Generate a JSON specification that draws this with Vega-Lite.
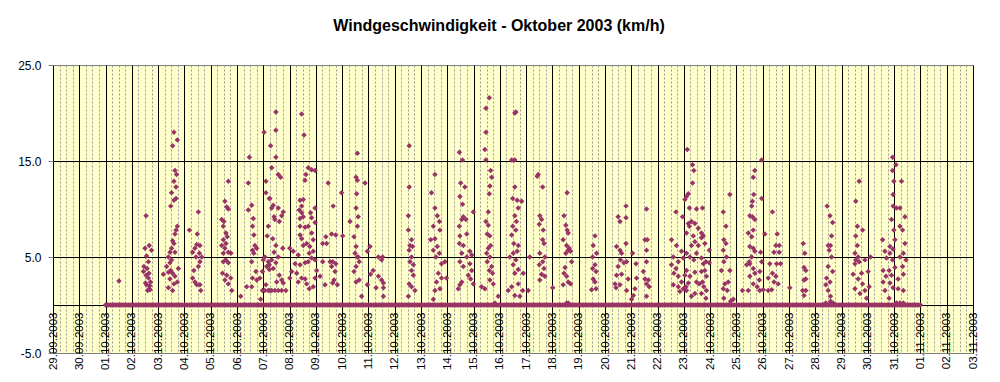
{
  "$schema": "https://vega.github.io/schema/vega-lite/v6.json",
  "width": 920,
  "height": 288,
  "autosize": {"type": "none"},
  "padding": {"left": 53, "top": 65, "right": 27, "bottom": 29},
  "background": "#ffffff",
  "config": {"view": {"fill": "#FFFFCC", "stroke": "#808080", "strokeWidth": 1}, "font": "Liberation Sans"},
  "title": {"text": "Windgeschwindigkeit - Oktober 2003 (km/h)", "font": "Liberation Sans", "fontSize": 16, "fontWeight": "bold", "color": "#000000", "anchor": "middle", "offset": 25, "dx": -14},
  "datasets": {
    "wind": [
      {"d":2.51,"v":2.5},
      {"d":3.54,"v":9.3},{"d":3.66,"v":6.2},{"d":3.75,"v":5.7},{"d":3.56,"v":5.1},{"d":3.63,"v":4.5},{"d":3.46,"v":4.0},{"d":3.44,"v":3.5},{"d":3.54,"v":3.1},{"d":3.63,"v":2.8},{"d":3.71,"v":2.4},{"d":3.56,"v":2.1},{"d":3.66,"v":1.7},{"d":3.60,"v":1.5},{"d":3.69,"v":1.6},{"d":3.50,"v":5.9},{"d":3.58,"v":3.8},{"d":3.65,"v":3.3},{"d":3.52,"v":2.3},{"d":3.68,"v":2.0},
      {"d":4.60,"v":18.0},{"d":4.73,"v":17.2},{"d":4.55,"v":16.6},{"d":4.64,"v":14.0},{"d":4.70,"v":13.6},{"d":4.60,"v":12.9},{"d":4.68,"v":12.3},{"d":4.51,"v":11.7},{"d":4.68,"v":11.1},{"d":4.60,"v":10.9},{"d":4.48,"v":10.3},{"d":4.73,"v":8.2},{"d":4.68,"v":7.8},{"d":4.64,"v":7.4},{"d":4.55,"v":6.7},{"d":4.60,"v":6.4},{"d":4.51,"v":5.9},{"d":4.45,"v":5.5},{"d":4.64,"v":5.5},{"d":4.39,"v":5.0},{"d":4.51,"v":4.7},{"d":4.45,"v":4.4},{"d":4.32,"v":4.0},{"d":4.77,"v":3.8},{"d":4.48,"v":3.6},{"d":4.39,"v":3.4},{"d":4.55,"v":3.3},{"d":4.20,"v":3.2},{"d":4.64,"v":3.0},{"d":4.45,"v":2.7},{"d":4.73,"v":2.4},{"d":4.60,"v":2.2},{"d":4.39,"v":1.8},{"d":4.55,"v":1.5},
      {"d":5.53,"v":9.7},{"d":5.19,"v":7.8},{"d":5.49,"v":7.4},{"d":5.47,"v":6.3},{"d":5.59,"v":6.2},{"d":5.40,"v":5.9},{"d":5.31,"v":5.5},{"d":5.57,"v":5.4},{"d":5.44,"v":5.0},{"d":5.66,"v":5.0},{"d":5.59,"v":4.5},{"d":5.53,"v":4.0},{"d":5.36,"v":3.6},{"d":5.31,"v":2.8},{"d":5.40,"v":2.4},{"d":5.59,"v":2.1},{"d":5.47,"v":2.1},{"d":5.62,"v":1.5},
      {"d":6.67,"v":12.9},{"d":6.54,"v":10.8},{"d":6.61,"v":10.2},{"d":6.67,"v":10.0},{"d":6.42,"v":8.9},{"d":6.50,"v":8.7},{"d":6.48,"v":8.2},{"d":6.58,"v":7.5},{"d":6.63,"v":7.1},{"d":6.48,"v":6.8},{"d":6.58,"v":6.4},{"d":6.42,"v":6.2},{"d":6.54,"v":5.9},{"d":6.67,"v":5.5},{"d":6.48,"v":5.4},{"d":6.77,"v":5.4},{"d":6.58,"v":4.7},{"d":6.48,"v":4.5},{"d":6.67,"v":4.4},{"d":6.45,"v":3.3},{"d":6.61,"v":3.1},{"d":6.54,"v":2.6},{"d":6.76,"v":2.8},{"d":6.67,"v":2.2},{"d":6.80,"v":1.5},
      {"d":7.14,"v":0.9},{"d":7.37,"v":1.9},{"d":7.43,"v":9.9},{"d":7.43,"v":12.7},{"d":7.47,"v":15.4},{"d":7.56,"v":10.4},{"d":7.62,"v":9.0},{"d":7.59,"v":8.2},{"d":7.64,"v":7.3},{"d":7.68,"v":6.2},{"d":7.75,"v":5.9},{"d":7.59,"v":5.7},{"d":7.64,"v":5.4},{"d":7.56,"v":4.5},{"d":7.72,"v":3.5},{"d":7.59,"v":2.8},{"d":7.75,"v":2.6},{"d":7.56,"v":1.9},{"d":8.03,"v":18.0},{"d":8.10,"v":12.9},{"d":8.10,"v":11.7},{"d":8.23,"v":11.1},{"d":8.06,"v":5.0},{"d":8.00,"v":4.7},{"d":8.19,"v":4.5},{"d":8.13,"v":4.0},{"d":8.23,"v":3.7},{"d":7.97,"v":3.5},{"d":8.10,"v":2.1},{"d":7.97,"v":1.5},{"d":8.25,"v":1.5},{"d":7.90,"v":0.6},
      {"d":8.48,"v":20.1},{"d":8.28,"v":16.6},{"d":8.48,"v":18.2},{"d":8.48,"v":15.4},{"d":8.32,"v":14.3},{"d":8.57,"v":13.6},{"d":8.66,"v":13.3},{"d":8.25,"v":11.1},{"d":8.38,"v":10.4},{"d":8.32,"v":10.1},{"d":8.57,"v":10.1},{"d":8.76,"v":9.7},{"d":8.41,"v":9.2},{"d":8.70,"v":9.3},{"d":8.44,"v":8.9},{"d":8.19,"v":8.2},{"d":8.61,"v":8.7},{"d":8.15,"v":7.2},{"d":8.36,"v":6.9},{"d":8.48,"v":6.2},{"d":8.74,"v":5.9},{"d":8.41,"v":5.5},{"d":8.57,"v":5.0},{"d":8.32,"v":4.7},{"d":8.48,"v":4.4},{"d":8.23,"v":4.2},{"d":8.38,"v":3.8},{"d":8.61,"v":3.1},{"d":8.70,"v":2.6},{"d":8.76,"v":2.3},{"d":8.51,"v":2.4},{"d":8.06,"v":1.5},{"d":8.19,"v":1.5},{"d":8.32,"v":1.5},{"d":8.44,"v":1.5},{"d":8.57,"v":1.5},{"d":8.70,"v":1.5},{"d":8.86,"v":1.5},{"d":7.87,"v":2.8},
      {"d":9.46,"v":19.9},{"d":9.55,"v":17.7},{"d":9.71,"v":14.3},{"d":9.84,"v":14.1},{"d":9.97,"v":14.0},{"d":9.62,"v":13.6},{"d":9.59,"v":13.0},{"d":9.40,"v":10.9},{"d":9.52,"v":11.0},{"d":9.46,"v":10.3},{"d":9.37,"v":9.9},{"d":9.46,"v":9.6},{"d":9.52,"v":9.2},{"d":9.40,"v":9.0},{"d":9.80,"v":9.6},{"d":9.84,"v":9.1},{"d":9.97,"v":10.1},{"d":9.71,"v":8.2},{"d":9.40,"v":8.2},{"d":9.59,"v":8.1},{"d":9.97,"v":8.6},{"d":9.84,"v":7.5},{"d":9.40,"v":7.3},{"d":9.46,"v":6.9},{"d":9.90,"v":6.8},{"d":9.52,"v":6.2},{"d":9.65,"v":6.4},{"d":9.77,"v":6.1},{"d":9.01,"v":5.9},{"d":9.14,"v":5.6},{"d":9.75,"v":5.4},{"d":9.90,"v":5.6},{"d":9.33,"v":5.2},{"d":9.84,"v":4.9},{"d":9.97,"v":4.7},{"d":9.71,"v":4.5},{"d":9.21,"v":4.3},{"d":9.40,"v":4.2},{"d":9.59,"v":4.4},{"d":9.08,"v":3.5},{"d":9.27,"v":3.3},{"d":9.46,"v":2.8},{"d":9.59,"v":2.7},{"d":9.33,"v":2.4},{"d":9.65,"v":2.2},{"d":9.01,"v":2.8},{"d":9.97,"v":2.8},{"d":9.75,"v":1.7},{"d":9.90,"v":1.9},
      {"d":10.47,"v":12.7},{"d":10.98,"v":11.7},{"d":10.66,"v":10.3},{"d":10.38,"v":7.1},{"d":10.60,"v":7.4},{"d":10.76,"v":7.3},{"d":11.02,"v":7.2},{"d":10.26,"v":6.4},{"d":10.41,"v":6.4},{"d":10.64,"v":4.5},{"d":10.76,"v":4.3},{"d":10.60,"v":4.0},{"d":10.73,"v":3.5},{"d":10.69,"v":2.6},{"d":10.64,"v":2.3},{"d":10.82,"v":2.1},{"d":10.35,"v":2.1},{"d":10.26,"v":4.5},{"d":10.54,"v":4.5},{"d":10.03,"v":3.6},{"d":10.16,"v":3.0},
      {"d":11.58,"v":15.8},{"d":11.53,"v":13.3},{"d":11.58,"v":13.0},{"d":11.87,"v":12.7},{"d":11.55,"v":11.6},{"d":11.53,"v":10.1},{"d":11.61,"v":9.2},{"d":11.30,"v":8.7},{"d":11.58,"v":8.2},{"d":11.45,"v":7.1},{"d":11.53,"v":6.1},{"d":11.49,"v":5.4},{"d":11.58,"v":5.0},{"d":11.65,"v":4.5},{"d":11.53,"v":4.0},{"d":11.45,"v":3.5},{"d":11.65,"v":2.6},{"d":11.53,"v":2.4},{"d":11.74,"v":0.9},{"d":11.61,"v":5.0},
      {"d":12.06,"v":6.1},{"d":11.96,"v":5.6},{"d":12.38,"v":5.0},{"d":12.50,"v":4.7},{"d":12.54,"v":5.0},{"d":12.18,"v":3.6},{"d":12.08,"v":3.2},{"d":12.38,"v":3.0},{"d":12.50,"v":2.6},{"d":12.57,"v":2.3},{"d":12.29,"v":1.8},{"d":12.57,"v":1.8},{"d":11.96,"v":2.1},{"d":12.57,"v":0.9},
      {"d":13.55,"v":16.6},{"d":13.55,"v":12.3},{"d":13.52,"v":9.3},{"d":13.52,"v":7.8},{"d":13.64,"v":6.8},{"d":13.58,"v":6.2},{"d":13.68,"v":6.1},{"d":13.55,"v":5.7},{"d":13.64,"v":5.0},{"d":13.58,"v":4.5},{"d":13.71,"v":4.2},{"d":13.64,"v":3.6},{"d":13.71,"v":3.1},{"d":13.55,"v":2.2},{"d":13.64,"v":1.9},{"d":13.77,"v":1.5},{"d":13.52,"v":0.9},
      {"d":14.53,"v":13.6},{"d":14.40,"v":11.7},{"d":14.53,"v":10.1},{"d":14.62,"v":9.3},{"d":14.70,"v":8.7},{"d":14.47,"v":8.2},{"d":14.72,"v":7.8},{"d":14.37,"v":6.8},{"d":14.53,"v":6.9},{"d":14.62,"v":6.1},{"d":14.47,"v":5.7},{"d":14.70,"v":5.4},{"d":14.57,"v":5.0},{"d":14.78,"v":4.3},{"d":14.91,"v":4.5},{"d":14.66,"v":3.3},{"d":14.78,"v":2.8},{"d":14.59,"v":2.4},{"d":14.72,"v":1.7},{"d":14.53,"v":1.5},{"d":14.97,"v":2.8},{"d":14.47,"v":0.6},
      {"d":15.46,"v":15.9},{"d":15.58,"v":15.1},{"d":15.51,"v":12.7},{"d":15.67,"v":12.3},{"d":15.48,"v":11.3},{"d":15.58,"v":10.5},{"d":15.61,"v":9.2},{"d":15.55,"v":8.9},{"d":15.71,"v":8.9},{"d":15.46,"v":8.2},{"d":15.48,"v":7.2},{"d":15.74,"v":7.4},{"d":15.46,"v":6.4},{"d":15.61,"v":6.2},{"d":15.86,"v":5.6},{"d":15.55,"v":5.4},{"d":15.74,"v":5.0},{"d":15.93,"v":5.2},{"d":15.48,"v":4.5},{"d":15.86,"v":4.3},{"d":15.61,"v":4.0},{"d":15.93,"v":3.6},{"d":15.80,"v":3.1},{"d":15.99,"v":9.7},{"d":15.89,"v":2.7},{"d":15.99,"v":2.2},{"d":15.48,"v":2.1},{"d":15.42,"v":1.7},{"d":15.55,"v":2.4},{"d":16.30,"v":1.9},{"d":16.43,"v":1.7},
      {"d":16.60,"v":21.6},{"d":16.47,"v":20.5},{"d":16.47,"v":18.0},{"d":16.43,"v":16.2},{"d":16.47,"v":15.1},{"d":16.65,"v":14.0},{"d":16.69,"v":13.3},{"d":16.62,"v":12.4},{"d":16.60,"v":11.6},{"d":16.56,"v":9.7},{"d":16.47,"v":8.7},{"d":16.56,"v":8.3},{"d":16.52,"v":7.4},{"d":16.62,"v":7.2},{"d":16.65,"v":6.2},{"d":16.56,"v":5.9},{"d":16.50,"v":5.4},{"d":16.62,"v":5.0},{"d":16.52,"v":4.5},{"d":16.69,"v":4.0},{"d":16.60,"v":3.6},{"d":16.72,"v":3.3},{"d":16.62,"v":2.6},{"d":16.75,"v":2.2},{"d":16.94,"v":0.9},{"d":16.81,"v":0.2},
      {"d":17.57,"v":20.0},{"d":17.61,"v":20.1},{"d":17.45,"v":15.1},{"d":17.57,"v":15.1},{"d":17.57,"v":12.3},{"d":17.49,"v":11.1},{"d":17.66,"v":10.9},{"d":17.83,"v":10.8},{"d":17.70,"v":10.1},{"d":17.57,"v":9.3},{"d":17.63,"v":8.7},{"d":17.49,"v":8.2},{"d":17.61,"v":7.8},{"d":17.45,"v":7.3},{"d":17.53,"v":6.4},{"d":17.70,"v":6.2},{"d":17.66,"v":5.6},{"d":17.51,"v":5.4},{"d":17.38,"v":5.0},{"d":17.61,"v":4.7},{"d":17.51,"v":4.2},{"d":17.70,"v":3.7},{"d":17.57,"v":3.3},{"d":17.89,"v":3.3},{"d":17.70,"v":2.2},{"d":17.45,"v":1.9},{"d":17.32,"v":1.5},{"d":17.87,"v":1.5},{"d":18.08,"v":1.5},{"d":17.57,"v":1.0},{"d":17.76,"v":0.9},
      {"d":18.42,"v":13.4},{"d":18.46,"v":13.6},{"d":18.63,"v":12.3},{"d":18.52,"v":9.3},{"d":18.59,"v":8.9},{"d":18.50,"v":8.4},{"d":18.65,"v":7.8},{"d":18.63,"v":6.8},{"d":18.68,"v":6.4},{"d":18.52,"v":5.4},{"d":18.71,"v":5.0},{"d":18.63,"v":4.5},{"d":18.50,"v":4.2},{"d":18.68,"v":3.8},{"d":18.59,"v":3.2},{"d":18.71,"v":3.0},{"d":18.52,"v":2.6},{"d":18.14,"v":5.0},
      {"d":19.56,"v":11.7},{"d":19.44,"v":9.3},{"d":19.51,"v":8.3},{"d":19.56,"v":7.8},{"d":19.60,"v":7.5},{"d":19.41,"v":6.8},{"d":19.54,"v":6.2},{"d":19.64,"v":5.9},{"d":19.69,"v":5.6},{"d":19.51,"v":5.4},{"d":19.60,"v":5.7},{"d":19.73,"v":4.5},{"d":19.48,"v":3.9},{"d":19.44,"v":3.3},{"d":19.54,"v":3.0},{"d":19.41,"v":2.1},{"d":19.60,"v":2.4},{"d":19.69,"v":2.2},{"d":19.01,"v":1.8},{"d":19.54,"v":0.2},{"d":19.60,"v":0.2},
      {"d":20.62,"v":7.2},{"d":20.55,"v":6.2},{"d":20.68,"v":5.4},{"d":20.53,"v":5.0},{"d":20.62,"v":4.2},{"d":20.53,"v":3.8},{"d":20.66,"v":3.5},{"d":20.55,"v":2.7},{"d":20.62,"v":2.4},{"d":20.49,"v":1.6},{"d":20.66,"v":1.7},
      {"d":21.80,"v":10.3},{"d":21.50,"v":9.2},{"d":21.80,"v":9.1},{"d":21.57,"v":8.7},{"d":21.80,"v":6.4},{"d":21.44,"v":6.1},{"d":21.57,"v":5.7},{"d":21.63,"v":5.4},{"d":22.05,"v":5.4},{"d":21.59,"v":4.7},{"d":21.72,"v":4.4},{"d":21.82,"v":4.5},{"d":21.50,"v":4.0},{"d":22.18,"v":4.3},{"d":21.44,"v":3.1},{"d":21.63,"v":3.2},{"d":21.88,"v":2.7},{"d":21.38,"v":2.2},{"d":21.57,"v":2.1},{"d":21.42,"v":1.8},{"d":21.82,"v":1.5},{"d":22.20,"v":2.8},{"d":22.14,"v":1.7},{"d":22.08,"v":1.0},{"d":22.01,"v":0.6},{"d":22.58,"v":10.0},{"d":22.52,"v":6.8},{"d":22.61,"v":6.8},{"d":22.58,"v":5.7},{"d":22.58,"v":4.5},{"d":22.46,"v":3.5},{"d":22.52,"v":2.7},{"d":22.65,"v":2.6},{"d":22.58,"v":2.2},{"d":22.68,"v":1.9},{"d":22.58,"v":0.9},
      {"d":24.13,"v":16.2},{"d":24.33,"v":14.6},{"d":24.38,"v":14.0},{"d":24.33,"v":12.7},{"d":24.17,"v":11.6},{"d":24.10,"v":11.3},{"d":24.04,"v":11.0},{"d":23.70,"v":9.7},{"d":23.95,"v":9.2},{"d":24.21,"v":10.1},{"d":24.48,"v":10.0},{"d":24.17,"v":8.5},{"d":24.29,"v":8.7},{"d":24.42,"v":8.5},{"d":24.55,"v":8.0},{"d":24.21,"v":8.2},{"d":24.10,"v":7.5},{"d":24.36,"v":7.2},{"d":23.53,"v":6.8},{"d":23.72,"v":6.2},{"d":24.42,"v":6.6},{"d":24.29,"v":6.2},{"d":24.55,"v":6.2},{"d":23.91,"v":5.6},{"d":24.10,"v":5.4},{"d":24.48,"v":5.4},{"d":24.23,"v":5.0},{"d":23.60,"v":5.0},{"d":23.79,"v":4.5},{"d":23.98,"v":4.9},{"d":24.38,"v":4.7},{"d":23.53,"v":4.2},{"d":23.70,"v":3.8},{"d":24.10,"v":3.6},{"d":24.42,"v":3.4},{"d":23.62,"v":3.3},{"d":23.79,"v":3.0},{"d":24.04,"v":3.1},{"d":24.23,"v":3.0},{"d":23.91,"v":2.4},{"d":24.17,"v":2.3},{"d":24.48,"v":2.4},{"d":23.60,"v":2.1},{"d":23.79,"v":1.9},{"d":23.98,"v":1.7},{"d":24.10,"v":1.5},{"d":23.85,"v":1.4},{"d":24.42,"v":1.2},{"d":24.29,"v":0.9},{"d":24.08,"v":1.9},{"d":24.59,"v":2.2},{"d":24.71,"v":10.1},{"d":24.67,"v":7.5},{"d":24.74,"v":7.2},{"d":24.67,"v":7.0},{"d":24.80,"v":6.4},{"d":24.97,"v":5.7},{"d":24.67,"v":4.9},{"d":24.84,"v":4.5},{"d":24.74,"v":4.3},{"d":24.80,"v":3.6},{"d":24.67,"v":3.5},{"d":24.86,"v":3.0},{"d":24.71,"v":2.4},{"d":24.76,"v":1.9},{"d":24.86,"v":1.5},{"d":24.67,"v":1.2},{"d":24.84,"v":0.7},{"d":24.97,"v":4.4},
      {"d":25.75,"v":11.5},{"d":25.50,"v":9.7},{"d":25.60,"v":8.2},{"d":25.52,"v":6.8},{"d":25.60,"v":6.4},{"d":25.50,"v":5.7},{"d":25.62,"v":5.0},{"d":25.52,"v":4.5},{"d":25.43,"v":3.6},{"d":25.75,"v":3.6},{"d":25.69,"v":2.4},{"d":25.56,"v":2.2},{"d":25.50,"v":1.7},{"d":25.65,"v":1.5},{"d":25.52,"v":0.7},{"d":25.78,"v":0.4},{"d":25.88,"v":0.6},
      {"d":26.96,"v":15.1},{"d":26.70,"v":14.0},{"d":26.64,"v":13.3},{"d":26.66,"v":11.5},{"d":26.96,"v":11.1},{"d":26.61,"v":10.8},{"d":26.58,"v":10.3},{"d":26.51,"v":9.3},{"d":26.61,"v":9.2},{"d":26.70,"v":8.9},{"d":26.64,"v":7.8},{"d":26.45,"v":7.5},{"d":27.08,"v":7.4},{"d":26.58,"v":7.1},{"d":26.51,"v":6.1},{"d":26.64,"v":5.9},{"d":26.70,"v":5.6},{"d":26.92,"v":5.5},{"d":26.58,"v":5.0},{"d":26.49,"v":4.5},{"d":26.96,"v":4.5},{"d":26.39,"v":4.2},{"d":26.51,"v":4.3},{"d":26.64,"v":3.8},{"d":26.89,"v":3.5},{"d":26.70,"v":3.3},{"d":26.51,"v":3.0},{"d":26.87,"v":2.6},{"d":26.64,"v":2.2},{"d":26.79,"v":1.9},{"d":26.45,"v":1.5},{"d":26.23,"v":1.5},{"d":26.89,"v":1.5},{"d":27.02,"v":1.6},
      {"d":27.37,"v":9.7},{"d":27.55,"v":7.4},{"d":27.50,"v":6.2},{"d":27.63,"v":6.2},{"d":27.43,"v":5.5},{"d":27.63,"v":5.5},{"d":27.27,"v":4.3},{"d":27.53,"v":4.3},{"d":27.68,"v":4.3},{"d":27.21,"v":2.8},{"d":27.37,"v":3.3},{"d":27.50,"v":3.0},{"d":27.43,"v":2.4},{"d":27.59,"v":2.2},{"d":27.34,"v":1.6},{"d":27.21,"v":1.5},{"d":28.03,"v":1.8},
      {"d":28.54,"v":6.4},{"d":28.60,"v":5.4},{"d":28.57,"v":3.9},{"d":28.64,"v":3.6},{"d":28.57,"v":2.6},{"d":28.64,"v":2.7},{"d":28.52,"v":1.5},{"d":28.64,"v":1.5},{"d":28.57,"v":1.0},
      {"d":29.45,"v":10.3},{"d":29.56,"v":9.3},{"d":29.66,"v":8.6},{"d":29.62,"v":7.2},{"d":29.49,"v":6.2},{"d":29.58,"v":6.2},{"d":29.53,"v":5.7},{"d":29.62,"v":5.0},{"d":29.49,"v":4.0},{"d":29.66,"v":3.5},{"d":29.43,"v":2.8},{"d":29.56,"v":2.4},{"d":29.40,"v":2.1},{"d":29.49,"v":1.5},{"d":29.58,"v":0.9},{"d":29.40,"v":0.2},{"d":29.58,"v":0.4},{"d":29.68,"v":0.2},
      {"d":30.67,"v":12.9},{"d":30.54,"v":10.8},{"d":30.60,"v":8.2},{"d":30.80,"v":7.8},{"d":30.54,"v":7.2},{"d":30.60,"v":6.2},{"d":30.51,"v":5.4},{"d":30.63,"v":5.0},{"d":30.54,"v":4.7},{"d":30.67,"v":4.5},{"d":30.51,"v":4.3},{"d":30.89,"v":4.7},{"d":31.10,"v":5.0},{"d":30.76,"v":3.3},{"d":30.44,"v":3.2},{"d":30.63,"v":2.7},{"d":30.80,"v":2.2},{"d":31.01,"v":3.5},{"d":30.51,"v":1.7},{"d":30.89,"v":1.5},{"d":31.05,"v":1.9},{"d":30.95,"v":0.7},{"d":30.70,"v":1.2},
      {"d":31.94,"v":15.4},{"d":32.07,"v":14.6},{"d":31.94,"v":14.0},{"d":32.28,"v":12.9},{"d":31.99,"v":12.9},{"d":31.96,"v":11.5},{"d":31.96,"v":10.3},{"d":32.09,"v":10.1},{"d":32.22,"v":10.1},{"d":31.90,"v":8.9},{"d":32.41,"v":9.2},{"d":31.99,"v":7.8},{"d":32.22,"v":8.2},{"d":32.32,"v":7.8},{"d":32.03,"v":6.8},{"d":31.56,"v":6.8},{"d":32.41,"v":6.4},{"d":31.84,"v":6.1},{"d":31.96,"v":5.8},{"d":31.65,"v":5.6},{"d":31.84,"v":5.4},{"d":32.35,"v":5.4},{"d":31.71,"v":4.9},{"d":31.94,"v":4.7},{"d":32.22,"v":5.0},{"d":32.45,"v":4.7},{"d":31.58,"v":3.6},{"d":31.81,"v":3.6},{"d":32.03,"v":3.9},{"d":32.32,"v":4.0},{"d":31.69,"v":3.0},{"d":31.90,"v":3.1},{"d":32.35,"v":3.2},{"d":32.15,"v":2.7},{"d":31.58,"v":2.4},{"d":31.84,"v":2.3},{"d":31.96,"v":1.8},{"d":32.15,"v":1.7},{"d":32.35,"v":1.5},{"d":31.65,"v":1.5},{"d":31.81,"v":0.7},{"d":32.22,"v":0.2},{"d":32.09,"v":0.2},{"d":32.35,"v":0.2},
      {"d":2,"v":0},{"d":2.0625,"v":0},{"d":2.125,"v":0},{"d":2.1875,"v":0},{"d":2.25,"v":0},{"d":2.3125,"v":0},{"d":2.375,"v":0},{"d":2.4375,"v":0},{"d":2.5,"v":0},{"d":2.5625,"v":0},{"d":2.625,"v":0},{"d":2.6875,"v":0},{"d":2.75,"v":0},{"d":2.8125,"v":0},{"d":2.875,"v":0},{"d":2.9375,"v":0},
      {"d":3,"v":0},{"d":3.0625,"v":0},{"d":3.125,"v":0},{"d":3.1875,"v":0},{"d":3.25,"v":0},{"d":3.3125,"v":0},{"d":3.375,"v":0},{"d":3.4375,"v":0},{"d":3.5,"v":0},{"d":3.5625,"v":0},{"d":3.625,"v":0},{"d":3.6875,"v":0},{"d":3.75,"v":0},{"d":3.8125,"v":0},{"d":3.875,"v":0},{"d":3.9375,"v":0},
      {"d":4,"v":0},{"d":4.0625,"v":0},{"d":4.125,"v":0},{"d":4.1875,"v":0},{"d":4.25,"v":0},{"d":4.3125,"v":0},{"d":4.375,"v":0},{"d":4.4375,"v":0},{"d":4.5,"v":0},{"d":4.5625,"v":0},{"d":4.625,"v":0},{"d":4.6875,"v":0},{"d":4.75,"v":0},{"d":4.8125,"v":0},{"d":4.875,"v":0},{"d":4.9375,"v":0},
      {"d":5,"v":0},{"d":5.0625,"v":0},{"d":5.125,"v":0},{"d":5.1875,"v":0},{"d":5.25,"v":0},{"d":5.3125,"v":0},{"d":5.375,"v":0},{"d":5.4375,"v":0},{"d":5.5,"v":0},{"d":5.5625,"v":0},{"d":5.625,"v":0},{"d":5.6875,"v":0},{"d":5.75,"v":0},{"d":5.8125,"v":0},{"d":5.875,"v":0},{"d":5.9375,"v":0},
      {"d":6,"v":0},{"d":6.0625,"v":0},{"d":6.125,"v":0},{"d":6.1875,"v":0},{"d":6.25,"v":0},{"d":6.3125,"v":0},{"d":6.375,"v":0},{"d":6.4375,"v":0},{"d":6.5,"v":0},{"d":6.5625,"v":0},{"d":6.625,"v":0},{"d":6.6875,"v":0},{"d":6.75,"v":0},{"d":6.8125,"v":0},{"d":6.875,"v":0},{"d":6.9375,"v":0},
      {"d":7,"v":0},{"d":7.0625,"v":0},{"d":7.125,"v":0},{"d":7.1875,"v":0},{"d":7.25,"v":0},{"d":7.3125,"v":0},{"d":7.375,"v":0},{"d":7.4375,"v":0},{"d":7.5,"v":0},{"d":7.5625,"v":0},{"d":7.625,"v":0},{"d":7.6875,"v":0},{"d":7.75,"v":0},{"d":7.8125,"v":0},{"d":7.875,"v":0},{"d":7.9375,"v":0},
      {"d":8,"v":0},{"d":8.0625,"v":0},{"d":8.125,"v":0},{"d":8.1875,"v":0},{"d":8.25,"v":0},{"d":8.3125,"v":0},{"d":8.375,"v":0},{"d":8.4375,"v":0},{"d":8.5,"v":0},{"d":8.5625,"v":0},{"d":8.625,"v":0},{"d":8.6875,"v":0},{"d":8.75,"v":0},{"d":8.8125,"v":0},{"d":8.875,"v":0},{"d":8.9375,"v":0},
      {"d":9,"v":0},{"d":9.0625,"v":0},{"d":9.125,"v":0},{"d":9.1875,"v":0},{"d":9.25,"v":0},{"d":9.3125,"v":0},{"d":9.375,"v":0},{"d":9.4375,"v":0},{"d":9.5,"v":0},{"d":9.5625,"v":0},{"d":9.625,"v":0},{"d":9.6875,"v":0},{"d":9.75,"v":0},{"d":9.8125,"v":0},{"d":9.875,"v":0},{"d":9.9375,"v":0},
      {"d":10,"v":0},{"d":10.0625,"v":0},{"d":10.125,"v":0},{"d":10.1875,"v":0},{"d":10.25,"v":0},{"d":10.3125,"v":0},{"d":10.375,"v":0},{"d":10.4375,"v":0},{"d":10.5,"v":0},{"d":10.5625,"v":0},{"d":10.625,"v":0},{"d":10.6875,"v":0},{"d":10.75,"v":0},{"d":10.8125,"v":0},{"d":10.875,"v":0},{"d":10.9375,"v":0},
      {"d":11,"v":0},{"d":11.0625,"v":0},{"d":11.125,"v":0},{"d":11.1875,"v":0},{"d":11.25,"v":0},{"d":11.3125,"v":0},{"d":11.375,"v":0},{"d":11.4375,"v":0},{"d":11.5,"v":0},{"d":11.5625,"v":0},{"d":11.625,"v":0},{"d":11.6875,"v":0},{"d":11.75,"v":0},{"d":11.8125,"v":0},{"d":11.875,"v":0},{"d":11.9375,"v":0},
      {"d":12,"v":0},{"d":12.0625,"v":0},{"d":12.125,"v":0},{"d":12.1875,"v":0},{"d":12.25,"v":0},{"d":12.3125,"v":0},{"d":12.375,"v":0},{"d":12.4375,"v":0},{"d":12.5,"v":0},{"d":12.5625,"v":0},{"d":12.625,"v":0},{"d":12.6875,"v":0},{"d":12.75,"v":0},{"d":12.8125,"v":0},{"d":12.875,"v":0},{"d":12.9375,"v":0},
      {"d":13,"v":0},{"d":13.0625,"v":0},{"d":13.125,"v":0},{"d":13.1875,"v":0},{"d":13.25,"v":0},{"d":13.3125,"v":0},{"d":13.375,"v":0},{"d":13.4375,"v":0},{"d":13.5,"v":0},{"d":13.5625,"v":0},{"d":13.625,"v":0},{"d":13.6875,"v":0},{"d":13.75,"v":0},{"d":13.8125,"v":0},{"d":13.875,"v":0},{"d":13.9375,"v":0},
      {"d":14,"v":0},{"d":14.0625,"v":0},{"d":14.125,"v":0},{"d":14.1875,"v":0},{"d":14.25,"v":0},{"d":14.3125,"v":0},{"d":14.375,"v":0},{"d":14.4375,"v":0},{"d":14.5,"v":0},{"d":14.5625,"v":0},{"d":14.625,"v":0},{"d":14.6875,"v":0},{"d":14.75,"v":0},{"d":14.8125,"v":0},{"d":14.875,"v":0},{"d":14.9375,"v":0},
      {"d":15,"v":0},{"d":15.0625,"v":0},{"d":15.125,"v":0},{"d":15.1875,"v":0},{"d":15.25,"v":0},{"d":15.3125,"v":0},{"d":15.375,"v":0},{"d":15.4375,"v":0},{"d":15.5,"v":0},{"d":15.5625,"v":0},{"d":15.625,"v":0},{"d":15.6875,"v":0},{"d":15.75,"v":0},{"d":15.8125,"v":0},{"d":15.875,"v":0},{"d":15.9375,"v":0},
      {"d":16,"v":0},{"d":16.0625,"v":0},{"d":16.125,"v":0},{"d":16.1875,"v":0},{"d":16.25,"v":0},{"d":16.3125,"v":0},{"d":16.375,"v":0},{"d":16.4375,"v":0},{"d":16.5,"v":0},{"d":16.5625,"v":0},{"d":16.625,"v":0},{"d":16.6875,"v":0},{"d":16.75,"v":0},{"d":16.8125,"v":0},{"d":16.875,"v":0},{"d":16.9375,"v":0},
      {"d":17,"v":0},{"d":17.0625,"v":0},{"d":17.125,"v":0},{"d":17.1875,"v":0},{"d":17.25,"v":0},{"d":17.3125,"v":0},{"d":17.375,"v":0},{"d":17.4375,"v":0},{"d":17.5,"v":0},{"d":17.5625,"v":0},{"d":17.625,"v":0},{"d":17.6875,"v":0},{"d":17.75,"v":0},{"d":17.8125,"v":0},{"d":17.875,"v":0},{"d":17.9375,"v":0},
      {"d":18,"v":0},{"d":18.0625,"v":0},{"d":18.125,"v":0},{"d":18.1875,"v":0},{"d":18.25,"v":0},{"d":18.3125,"v":0},{"d":18.375,"v":0},{"d":18.4375,"v":0},{"d":18.5,"v":0},{"d":18.5625,"v":0},{"d":18.625,"v":0},{"d":18.6875,"v":0},{"d":18.75,"v":0},{"d":18.8125,"v":0},{"d":18.875,"v":0},{"d":18.9375,"v":0},
      {"d":19,"v":0},{"d":19.0625,"v":0},{"d":19.125,"v":0},{"d":19.1875,"v":0},{"d":19.25,"v":0},{"d":19.3125,"v":0},{"d":19.375,"v":0},{"d":19.4375,"v":0},{"d":19.5,"v":0},{"d":19.5625,"v":0},{"d":19.625,"v":0},{"d":19.6875,"v":0},{"d":19.75,"v":0},{"d":19.8125,"v":0},{"d":19.875,"v":0},{"d":19.9375,"v":0},
      {"d":20,"v":0},{"d":20.0625,"v":0},{"d":20.125,"v":0},{"d":20.1875,"v":0},{"d":20.25,"v":0},{"d":20.3125,"v":0},{"d":20.375,"v":0},{"d":20.4375,"v":0},{"d":20.5,"v":0},{"d":20.5625,"v":0},{"d":20.625,"v":0},{"d":20.6875,"v":0},{"d":20.75,"v":0},{"d":20.8125,"v":0},{"d":20.875,"v":0},{"d":20.9375,"v":0},
      {"d":21,"v":0},{"d":21.0625,"v":0},{"d":21.125,"v":0},{"d":21.1875,"v":0},{"d":21.25,"v":0},{"d":21.3125,"v":0},{"d":21.375,"v":0},{"d":21.4375,"v":0},{"d":21.5,"v":0},{"d":21.5625,"v":0},{"d":21.625,"v":0},{"d":21.6875,"v":0},{"d":21.75,"v":0},{"d":21.8125,"v":0},{"d":21.875,"v":0},{"d":21.9375,"v":0},
      {"d":22,"v":0},{"d":22.0625,"v":0},{"d":22.125,"v":0},{"d":22.1875,"v":0},{"d":22.25,"v":0},{"d":22.3125,"v":0},{"d":22.375,"v":0},{"d":22.4375,"v":0},{"d":22.5,"v":0},{"d":22.5625,"v":0},{"d":22.625,"v":0},{"d":22.6875,"v":0},{"d":22.75,"v":0},{"d":22.8125,"v":0},{"d":22.875,"v":0},{"d":22.9375,"v":0},
      {"d":23,"v":0},{"d":23.0625,"v":0},{"d":23.125,"v":0},{"d":23.1875,"v":0},{"d":23.25,"v":0},{"d":23.3125,"v":0},{"d":23.375,"v":0},{"d":23.4375,"v":0},{"d":23.5,"v":0},{"d":23.5625,"v":0},{"d":23.625,"v":0},{"d":23.6875,"v":0},{"d":23.75,"v":0},{"d":23.8125,"v":0},{"d":23.875,"v":0},{"d":23.9375,"v":0},
      {"d":24,"v":0},{"d":24.0625,"v":0},{"d":24.125,"v":0},{"d":24.1875,"v":0},{"d":24.25,"v":0},{"d":24.3125,"v":0},{"d":24.375,"v":0},{"d":24.4375,"v":0},{"d":24.5,"v":0},{"d":24.5625,"v":0},{"d":24.625,"v":0},{"d":24.6875,"v":0},{"d":24.75,"v":0},{"d":24.8125,"v":0},{"d":24.875,"v":0},{"d":24.9375,"v":0},
      {"d":25,"v":0},{"d":25.0625,"v":0},{"d":25.125,"v":0},{"d":25.1875,"v":0},{"d":25.25,"v":0},{"d":25.3125,"v":0},{"d":25.375,"v":0},{"d":25.4375,"v":0},{"d":25.5,"v":0},{"d":25.5625,"v":0},{"d":25.625,"v":0},{"d":25.6875,"v":0},{"d":25.75,"v":0},{"d":25.8125,"v":0},{"d":25.875,"v":0},{"d":25.9375,"v":0},
      {"d":26,"v":0},{"d":26.0625,"v":0},{"d":26.125,"v":0},{"d":26.1875,"v":0},{"d":26.25,"v":0},{"d":26.3125,"v":0},{"d":26.375,"v":0},{"d":26.4375,"v":0},{"d":26.5,"v":0},{"d":26.5625,"v":0},{"d":26.625,"v":0},{"d":26.6875,"v":0},{"d":26.75,"v":0},{"d":26.8125,"v":0},{"d":26.875,"v":0},{"d":26.9375,"v":0},
      {"d":27,"v":0},{"d":27.0625,"v":0},{"d":27.125,"v":0},{"d":27.1875,"v":0},{"d":27.25,"v":0},{"d":27.3125,"v":0},{"d":27.375,"v":0},{"d":27.4375,"v":0},{"d":27.5,"v":0},{"d":27.5625,"v":0},{"d":27.625,"v":0},{"d":27.6875,"v":0},{"d":27.75,"v":0},{"d":27.8125,"v":0},{"d":27.875,"v":0},{"d":27.9375,"v":0},
      {"d":28,"v":0},{"d":28.0625,"v":0},{"d":28.125,"v":0},{"d":28.1875,"v":0},{"d":28.25,"v":0},{"d":28.3125,"v":0},{"d":28.375,"v":0},{"d":28.4375,"v":0},{"d":28.5,"v":0},{"d":28.5625,"v":0},{"d":28.625,"v":0},{"d":28.6875,"v":0},{"d":28.75,"v":0},{"d":28.8125,"v":0},{"d":28.875,"v":0},{"d":28.9375,"v":0},
      {"d":29,"v":0},{"d":29.0625,"v":0},{"d":29.125,"v":0},{"d":29.1875,"v":0},{"d":29.25,"v":0},{"d":29.3125,"v":0},{"d":29.375,"v":0},{"d":29.4375,"v":0},{"d":29.5,"v":0},{"d":29.5625,"v":0},{"d":29.625,"v":0},{"d":29.6875,"v":0},{"d":29.75,"v":0},{"d":29.8125,"v":0},{"d":29.875,"v":0},{"d":29.9375,"v":0},
      {"d":30,"v":0},{"d":30.0625,"v":0},{"d":30.125,"v":0},{"d":30.1875,"v":0},{"d":30.25,"v":0},{"d":30.3125,"v":0},{"d":30.375,"v":0},{"d":30.4375,"v":0},{"d":30.5,"v":0},{"d":30.5625,"v":0},{"d":30.625,"v":0},{"d":30.6875,"v":0},{"d":30.75,"v":0},{"d":30.8125,"v":0},{"d":30.875,"v":0},{"d":30.9375,"v":0},
      {"d":31,"v":0},{"d":31.0625,"v":0},{"d":31.125,"v":0},{"d":31.1875,"v":0},{"d":31.25,"v":0},{"d":31.3125,"v":0},{"d":31.375,"v":0},{"d":31.4375,"v":0},{"d":31.5,"v":0},{"d":31.5625,"v":0},{"d":31.625,"v":0},{"d":31.6875,"v":0},{"d":31.75,"v":0},{"d":31.8125,"v":0},{"d":31.875,"v":0},{"d":31.9375,"v":0},
      {"d":32,"v":0},{"d":32.0625,"v":0},{"d":32.125,"v":0},{"d":32.1875,"v":0},{"d":32.25,"v":0},{"d":32.3125,"v":0},{"d":32.375,"v":0},{"d":32.4375,"v":0},{"d":32.5,"v":0},{"d":32.5625,"v":0},{"d":32.625,"v":0},{"d":32.6875,"v":0},{"d":32.75,"v":0},{"d":32.8125,"v":0},{"d":32.875,"v":0},{"d":32.9375,"v":0},
      {"d":33,"v":0}
    ]
  },
  "data": {"name": "wind"},
  "mark": {"type": "point", "shape": "diamond", "filled": true, "size": 30, "color": "#993366", "opacity": 1, "strokeWidth": 0},
  "encoding": {
    "x": {
      "field": "d", "type": "quantitative",
      "scale": {"domain": [0, 35], "nice": false, "zero": false},
      "axis": {
        "title": null, "orient": "bottom", "offset": -48,
        "values": [0,0.25,0.5,0.75,1,1.25,1.5,1.75,2,2.25,2.5,2.75,3,3.25,3.5,3.75,4,4.25,4.5,4.75,5,5.25,5.5,5.75,6,6.25,6.5,6.75,7,7.25,7.5,7.75,8,8.25,8.5,8.75,9,9.25,9.5,9.75,10,10.25,10.5,10.75,11,11.25,11.5,11.75,12,12.25,12.5,12.75,13,13.25,13.5,13.75,14,14.25,14.5,14.75,15,15.25,15.5,15.75,16,16.25,16.5,16.75,17,17.25,17.5,17.75,18,18.25,18.5,18.75,19,19.25,19.5,19.75,20,20.25,20.5,20.75,21,21.25,21.5,21.75,22,22.25,22.5,22.75,23,23.25,23.5,23.75,24,24.25,24.5,24.75,25,25.25,25.5,25.75,26,26.25,26.5,26.75,27,27.25,27.5,27.75,28,28.25,28.5,28.75,29,29.25,29.5,29.75,30,30.25,30.5,30.75,31,31.25,31.5,31.75,32,32.25,32.5,32.75,33,33.25,33.5,33.75,34,34.25,34.5,34.75,35],
        "domain": true, "domainColor": "#000000", "domainWidth": 1,
        "ticks": false,
        "labelAngle": 270, "labelPadding": 7, "labelFontSize": 11.5, "labelColor": "#000000", "labelFont": "Liberation Sans",
        "labelOverlap": false, "labelBound": false, "labelFlush": false,
        "labelExpr": "datum.value % 1 === 0 ? timeFormat(datetime(2003, 8, 29 + datum.value), '%d.%m.%Y') : ''",
        "grid": true, "gridWidth": 1, "gridOpacity": 1,
        "gridColor": {"condition": {"test": "datum.value % 1 === 0", "value": "#000000"}, "value": "#9a9a9a"},
        "gridDash": {"condition": {"test": "datum.value % 1 === 0", "value": []}, "value": [2, 2]}
      }
    },
    "y": {
      "field": "v", "type": "quantitative",
      "scale": {"domain": [-5, 25], "nice": false, "zero": false},
      "axis": {
        "title": null, "values": [-5, 5, 15, 25],
        "labelExpr": "datum.value + '.0'",
        "domain": false, "ticks": true, "tickColor": "#808080", "tickSize": 5,
        "labelPadding": 7, "labelFontSize": 12, "labelColor": "#000000", "labelFont": "Liberation Sans",
        "grid": true, "gridColor": "#000000", "gridWidth": 1,
        "gridOpacity": {"condition": {"test": "datum.value === 5 || datum.value === 15", "value": 1}, "value": 0}
      }
    }
  }
}
